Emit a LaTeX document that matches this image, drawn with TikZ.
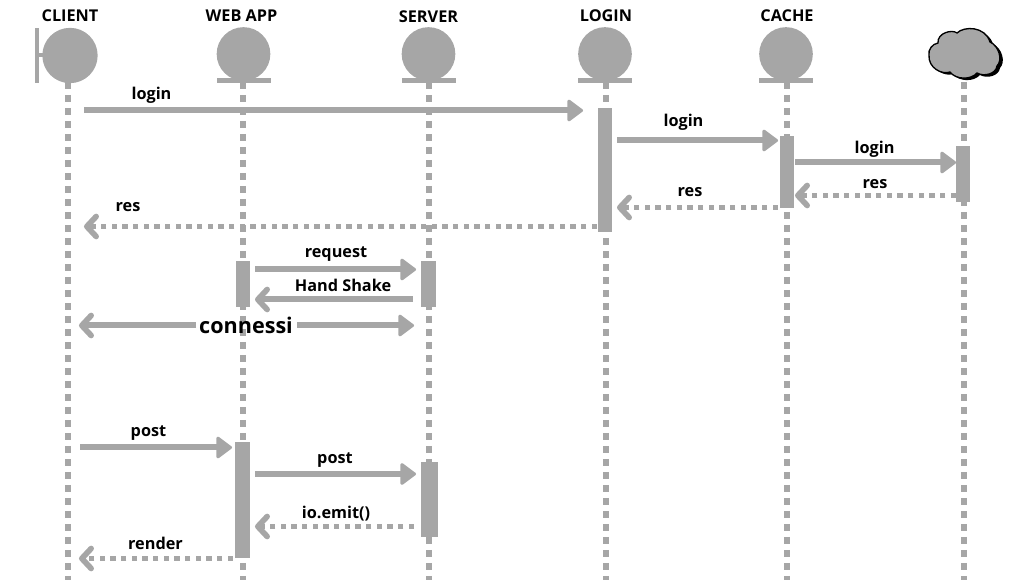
\documentclass[tikz,border=0pt]{standalone}
\usepackage{fontspec}
\setmainfont{Open Sans}
\usetikzlibrary{arrows.meta}
\definecolor{gr}{HTML}{A6A6A6}
\tikzset{x=0.75pt,y=-0.75pt,
 life/.style={draw=gr,line width=4.5pt,dash pattern=on 5pt off 4.75pt},
 head/.style={circle,fill=gr,inner sep=0pt},
 bar/.style={fill=gr,inner sep=0pt,minimum width=0pt},
 msg/.style={draw=gr,line width=4.5pt,-{Triangle[length=12.5pt,width=18pt,line width=2.25pt,round]}},
 msgb/.style={draw=gr,line width=4.5pt,-{Straight Barb[length=7pt,width=15pt,line width=4.25pt,round]}},
 msgd/.style={draw=gr,line width=4pt,dash pattern=on 4pt off 4pt,-{Straight Barb[length=7pt,width=15pt,line width=4.25pt,round]}},
 lab/.style={font=\bfseries\fontsize{12.2pt}{14pt}\selectfont,inner sep=0pt,text=black},
 ttl/.style={font=\bfseries\fontsize{12.2pt}{14pt}\selectfont,inner sep=0pt,text=black}}
\begin{document}
\begin{tikzpicture}
\useasboundingbox (0,0) rectangle (1032,580);
% life lines
\foreach \n/\x in {cl/68,wa/243,sv/428.5,lo/605.5,ca/787,cd/963.5}{
 \coordinate (\n t) at (\x,82); \coordinate (\n b) at (\x,580);
 \draw[life] (\n t)--(\n b);}
% heads
\node[head,minimum size=41.5pt] (c1) at (70,55.5) {};
\node[head,minimum size=40.25pt] (c2) at (243.5,54) {};
\node[head,minimum size=40.25pt] (c3) at (428.5,54) {};
\node[head,minimum size=40.25pt] (c4) at (605,54) {};
\node[head,minimum size=40.25pt] (c5) at (786,54) {};
\foreach \n/\x in {c2/243.5,c3/428.5,c4/605,c5/786}
 \fill[gr] (\x-27,78.5) rectangle (\x+27,83);
\fill[gr] (35,28) rectangle (39,83);
\fill[gr] (37,53.5) rectangle (44,57.5);
% cloud
\def\cloudp{(938,43) .. controls (937,33) and (952,29) .. (957,33) .. controls (964,26) and (985,26) .. (990,42)
 .. controls (999,46) and (1003,60) .. (997,66) .. controls (996,74) and (984,77) .. (977,73)
 .. controls (971,80) and (956,80) .. (950,72) .. controls (942,75) and (928,68) .. (929,55)
 .. controls (928,50) and (932,44) .. (938,43) -- cycle}
\fill[black,shift={(3,2)}] \cloudp;
\draw[fill=gr,draw=black,line width=1pt] \cloudp;
% bars
\node[bar,minimum width=10.75pt,minimum height=93pt,anchor=north] (b1) at (605,108) {};
\node[bar,minimum width=10.75pt,minimum height=54pt,anchor=north] (b2) at (786.7,136) {};
\node[bar,minimum width=10.25pt,minimum height=42pt,anchor=north] (b3) at (963.3,146) {};
\node[bar,minimum width=10.75pt,minimum height=34.5pt,anchor=north] (b4) at (243,261) {};
\node[bar,minimum width=11.25pt,minimum height=34.5pt,anchor=north] (b5) at (428.5,261) {};
\node[bar,minimum width=11pt,minimum height=87pt,anchor=north] (b6) at (242.5,442) {};
\node[bar,minimum width=12.5pt,minimum height=56.25pt,anchor=north] (b7) at (429.5,462) {};
% connectors
\foreach \n/\x/\y in {a1/84/110.5,a2/583/110.5,a3/617/140.5,a4/778/140.5,a5/795/162.5,a6/956/162.5,
 a7/956/195.5,a8/795/195.5,a9/778/207.5,a10/617/207.5,a11/597/226.5,a12/84/226.5,
 a13/255/269.5,a14/416/269.5,a15/413/299.5,a16/255/299.5,a17/196/325.5,a18/79/325.5,a19/297/325.5,a20/414/325.5,
 a21/80/447.5,a22/232/447.5,a23/255/474,a24/416/474,a25/414/526.5,a26/255/526.5,a27/233/558.5,a28/79/558.5}
 \coordinate (\n) at (\x,\y);
\draw[msg] (a1)--(a2);
\draw[msg] (a3)--(a4);
\draw[msg] (a5)--(a6);
\draw[msgd] (a7)--(a8);
\draw[msgd] (a9)--(a10);
\draw[msgd] (a11)--(a12);
\draw[msg] (a13)--(a14);
\draw[msgb] (a15)--(a16);
\draw[msgb] (a17)--(a18);
\draw[msg] (a19)--(a20);
\draw[msg] (a21)--(a22);
\draw[msg] (a23)--(a24);
\draw[msgd] (a25)--(a26);
\draw[msgd] (a27)--(a28);
% labels
\node[ttl] (t1) at (70,16) {CLIENT};
\node[ttl] (t2) at (241.5,15.5) {WEB APP};
\node[ttl] (t3) at (428.5,16.5) {SERVER};
\node[ttl] (t4) at (606,15.5) {LOGIN};
\node[ttl] (t5) at (787,15.5) {CACHE};
\node[lab] (l1) at (151.5,95.5) {login};
\node[lab] (l2) at (683.5,122.5) {login};
\node[lab] (l3) at (874.5,149.5) {login};
\node[lab] (l4) at (690,192.5) {res};
\node[lab] (l5) at (875,184.5) {res};
\node[lab] (l6) at (128,207.5) {res};
\node[lab] (l7) at (336,254) {request};
\node[lab] (l8) at (343,285.5) {Hand Shake};
\node[lab,font=\bfseries\fontsize{16.2pt}{18pt}\selectfont] (l9) at (246,325.5) {connessi};
\node[lab] (l10) at (148.5,433) {post};
\node[lab] (l11) at (335,460) {post};
\node[lab] (l12) at (336,514) {io.emit()};
\node[lab] (l13) at (155.5,543.5) {render};
\end{tikzpicture}
\end{document}
